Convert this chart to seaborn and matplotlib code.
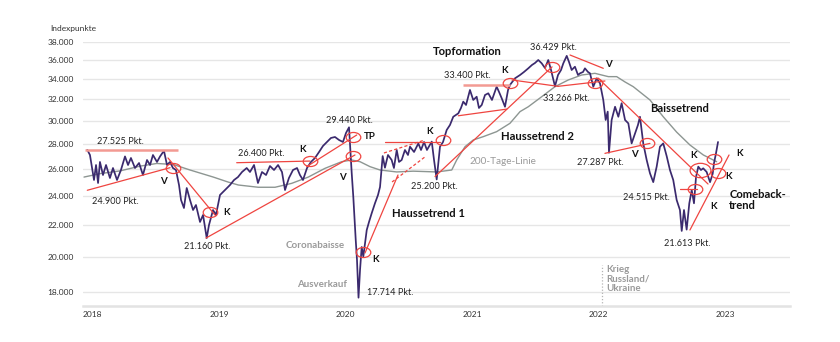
import numpy as np
import pandas as pd
import matplotlib
matplotlib.use("Agg")
import matplotlib.pyplot as plt
import seaborn as sns
from matplotlib.path import Path
from matplotlib.transforms import Affine2D

# ---------------- data (decimal years, index points) ----------------
t_index = [2018.034, 2018.055, 2018.087, 2018.103, 2018.119, 2018.134, 2018.158, 2018.182, 2018.213, 2018.237,
           2018.269, 2018.300, 2018.332, 2018.356, 2018.379, 2018.411, 2018.443, 2018.474, 2018.506, 2018.530,
           2018.553, 2018.585, 2018.609, 2018.640, 2018.664, 2018.688, 2018.711, 2018.735, 2018.759, 2018.775,
           2018.798, 2018.820, 2018.846, 2018.870, 2018.893, 2018.925, 2018.949, 2018.978, 2018.996, 2019.028,
           2019.051, 2019.083, 2019.123, 2019.162, 2019.194, 2019.225, 2019.257, 2019.294, 2019.320, 2019.352,
           2019.383, 2019.415, 2019.447, 2019.478, 2019.510, 2019.542, 2019.573, 2019.597, 2019.628, 2019.660,
           2019.692, 2019.715, 2019.739, 2019.771, 2019.802, 2019.834, 2019.866, 2019.897, 2019.929, 2019.960,
           2019.992, 2020.024, 2020.055, 2020.079, 2020.103, 2020.124, 2020.137, 2020.156, 2020.166, 2020.178,
           2020.190, 2020.203, 2020.216, 2020.243, 2020.261, 2020.282, 2020.308, 2020.332, 2020.348, 2020.369,
           2020.387, 2020.411, 2020.440, 2020.458, 2020.480, 2020.498, 2020.519, 2020.545, 2020.569, 2020.585,
           2020.617, 2020.651, 2020.672, 2020.696, 2020.719, 2020.757, 2020.775, 2020.796, 2020.822, 2020.846,
           2020.875, 2020.901, 2020.927, 2020.967, 2020.988, 2021.006, 2021.028, 2021.059, 2021.085, 2021.112,
           2021.130, 2021.152, 2021.178, 2021.204, 2021.233, 2021.270, 2021.289, 2021.310, 2021.336, 2021.360,
           2021.375, 2021.415, 2021.455, 2021.486, 2021.520, 2021.549, 2021.573, 2021.599, 2021.626, 2021.652,
           2021.678, 2021.700, 2021.731, 2021.755, 2021.779, 2021.797, 2021.824, 2021.842, 2021.863, 2021.889,
           2021.913, 2021.929, 2021.953, 2021.968, 2021.992, 2022.008, 2022.034, 2022.061, 2022.087, 2022.113,
           2022.132, 2022.148, 2022.158, 2022.179, 2022.206, 2022.232, 2022.258, 2022.285, 2022.311, 2022.337,
           2022.364, 2022.387, 2022.403, 2022.429, 2022.456, 2022.482, 2022.508, 2022.535, 2022.561, 2022.587,
           2022.614, 2022.640, 2022.666, 2022.693, 2022.719, 2022.733, 2022.751, 2022.772, 2022.793, 2022.812,
           2022.830, 2022.846, 2022.864, 2022.885, 2022.903, 2022.930, 2022.957, 2022.978, 2022.988, 2023.004,
           2023.020]
v_index = [27525, 27107, 25159, 26310, 24934, 26550, 25536, 26310, 25309, 26075,
           25159, 25920, 26990, 26310, 26866, 26075, 26467, 25536, 26705, 26310,
           27107, 26550, 26990, 27450, 26310, 26550, 26075, 25920, 24786, 23703,
           23144, 24565, 23703, 23006, 23351, 22200, 22666, 21160, 22000, 23006,
           22666, 24059, 24419, 24786, 25159, 25380, 25766, 26075, 25766, 26310,
           24934, 25766, 25536, 26231, 25920, 26310, 25766, 24419, 25309, 25920,
           26075, 25536, 25159, 26075, 26550, 26866, 27350, 27845, 28178, 28517,
           28602, 28347, 28178, 28945, 29440, 25717, 23900, 21037, 19820, 17714,
           19238, 20603, 20020, 21674, 22200, 22780, 23470, 24059, 24640, 27020,
           26100, 27107, 26705, 26075, 27514, 26550, 26705, 27514, 27107, 27787,
           27350, 28060, 27514, 28178, 27514, 28210, 26705, 25200, 27787, 28178,
           29204, 29643, 30380, 30690, 31186, 31780, 31467, 32905, 31939, 32250,
           31186, 31467, 32418, 32580, 31939, 33230, 32710, 32100, 31300, 32905,
           33399, 34070, 34409, 34720, 35100, 35450, 35662, 35982, 35630, 35134,
           35982, 34925, 33266, 34409, 34925, 35630, 36429, 35770, 34925, 35270,
           34409, 34580, 34720, 35100, 34720, 34580, 33230, 34070, 33560, 31939,
           30089, 30850, 27287, 30089, 31300, 30380, 31630, 30089, 29790, 28060,
           28890, 29643, 30380, 28060, 26705, 25670, 25000, 26180, 27787, 28060,
           27020, 25920, 25159, 23703, 23006, 21613, 23006, 21700, 23470, 24419,
           23470, 25380, 26180, 25920, 26050, 25770, 25000, 25640, 26440, 27250,
           28178]

t_ma200 = [2018.008, 2018.134, 2018.292, 2018.451, 2018.583, 2018.714, 2018.846, 2019.030, 2019.149, 2019.228,
           2019.386, 2019.518, 2019.650, 2019.781, 2019.913, 2020.045, 2020.124, 2020.190, 2020.269, 2020.348,
           2020.480, 2020.611, 2020.796, 2020.915, 2020.954, 2021.020, 2021.085, 2021.164, 2021.270, 2021.375,
           2021.455, 2021.520, 2021.626, 2021.731, 2021.836, 2021.942, 2022.047, 2022.153, 2022.219, 2022.285,
           2022.350, 2022.482, 2022.587, 2022.693, 2022.798, 2022.904, 2023.009]
v_ma200 = [25380, 25640, 25850, 26220, 26430, 26350, 25920, 25380, 25000, 24786,
           24620, 24620, 24910, 25380, 26050, 26570, 26705, 26570, 26180, 25920,
           25770, 25830, 25770, 25920, 26705, 27787, 28347, 28630, 29060, 29790,
           30850, 31300, 32250, 33230, 33900, 34409, 34580, 34240, 34240, 33700,
           33230, 31939, 30380, 29020, 27927, 27107, 26570]

y_ticks = [18000, 20000, 22000, 24000, 26000, 28000, 30000, 32000, 34000, 36000, 38000]
x_years = [2018, 2019, 2020, 2021, 2022, 2023]

# trend lines: (t0, v0, t1, v1)
salmon_lines = [(2018.016, 27525, 2018.753, 27525),
                (2021.006, 33400, 2021.375, 33400)]
red_lines = [(2018.034, 24400, 2018.688, 26100),
             (2018.672, 26866, 2019.043, 22666),
             (2018.972, 21160, 2020.150, 27107),
             (2019.215, 26490, 2019.794, 26620),
             (2019.768, 26180, 2020.164, 28773),
             (2020.229, 20237, 2020.490, 25536),
             (2020.387, 28200, 2020.822, 28200),
             (2020.783, 25420, 2021.708, 35250),
             (2020.967, 30470, 2021.349, 31080),
             (2021.391, 33900, 2021.755, 33266),
             (2021.755, 33266, 2022.126, 33800),
             (2021.850, 36522, 2022.113, 35100),
             (2022.071, 34103, 2022.941, 24860),
             (2022.126, 27240, 2022.482, 28060),
             (2022.719, 24515, 2022.851, 24515),
             (2022.798, 21674, 2023.107, 27107)]
dashed_lines = [(2020.379, 27269, 2020.703, 28347),
                (2020.443, 25010, 2020.703, 26950)]
circles_t = [2018.709, 2019.004, 2019.794, 2020.137, 2020.137, 2020.216, 2020.848, 2021.375, 2021.708,
             2022.047, 2022.456, 2022.838, 2022.985, 2023.022]
circles_v = [26050, 22890, 26620, 28570, 27020, 20310, 28347, 33620, 35240,
             33620, 28060, 24515, 26790, 25670]
big_circle = (2022.877, 25920)

# text labels
pkt_labels = [("27.525 Pkt.", 2018.108, 28260), ("24.900 Pkt.", 2018.074, 23580),
              ("21.160 Pkt.", 2018.801, 20630), ("26.400 Pkt.", 2019.228, 27190),
              ("29.440 Pkt.", 2019.919, 30030), ("17.714 Pkt.", 2020.243, 17980),
              ("25.200 Pkt.", 2020.590, 24710), ("33.400 Pkt.", 2020.856, 34306),
              ("36.429 Pkt.", 2021.534, 37370), ("33.266 Pkt.", 2021.639, 32100),
              ("27.287 Pkt.", 2021.907, 26490), ("24.515 Pkt.", 2022.266, 23900),
              ("21.613 Pkt.", 2022.593, 20800)]
signal_labels = [("V", 2018.635, 25080), ("K", 2019.136, 22850), ("K", 2019.734, 27570),
                 ("TP", 2020.265, 28650), ("V", 2020.050, 25380), ("K", 2020.316, 19870),
                 ("K", 2020.738, 29050), ("K", 2021.336, 34850), ("V", 2022.153, 35450),
                 ("V", 2022.358, 27107), ("K", 2022.830, 27030), ("K", 2023.188, 27190),
                 ("K", 2023.107, 25400), ("K", 2022.988, 23240)]
headline_labels = [("Topformation", 2020.769, 36960), ("Haussetrend 1", 2020.440, 22780),
                   ("Haussetrend 2", 2021.304, 28650), ("Baissetrend", 2022.482, 31170),
                   ("Comeback-\ntrend", 2023.109, 23703)]
gray_labels = [("Coronabaisse", 2019.838, 20680), ("Ausverkauf", 2019.888, 18400)]
war_date = 2022.10

# ---------------- style ----------------
sns.set_theme(style="white")
plt.rcParams["font.family"] = ["Lato", "DejaVu Sans"]

fig = plt.figure(figsize=(8.4, 3.42), dpi=100)
ax = fig.add_axes([83/840, 1 - 305.7/342, (790 - 83)/840, (305.7 - 41.7)/342])

ax.set_yscale("log")
ax.set_ylim(17295, 38000)
ax.set_xlim(2018.0, 2023.589)

for yt in y_ticks:
    ax.axhline(yt, color="#e6e6e6", lw=1.0, zorder=0)

RED = "#ef4540"
SALMON = "#f39a93"
PURPLE = "#3b2a6e"
GRAY = "#9a9a9a"

df_ma = pd.DataFrame({"t": t_ma200, "v": v_ma200})
sns.lineplot(data=df_ma, x="t", y="v", ax=ax, color="#8d9692", lw=1.0, zorder=2)

df = pd.DataFrame({"t": t_index, "v": v_index})
sns.lineplot(data=df, x="t", y="v", ax=ax, color=PURPLE, lw=1.25, zorder=3)

for (a, b, c, d) in salmon_lines:
    ax.plot([a, c], [b, d], color=SALMON, lw=1.8, zorder=4, solid_capstyle="butt")
for (a, b, c, d) in red_lines:
    ax.plot([a, c], [b, d], color=RED, lw=0.9, zorder=4)
for (a, b, c, d) in dashed_lines:
    ax.plot([a, c], [b, d], color=RED, lw=0.9, ls=(0, (2.5, 1.8)), zorder=4)

ell = Path.unit_circle().transformed(Affine2D().scale(1.45, 1.0))
ax.plot(circles_t, circles_v, ls="none", marker=ell, markersize=10.5,
        markerfacecolor="none", markeredgecolor=RED, markeredgewidth=0.9, zorder=5)
ax.plot([big_circle[0]], [big_circle[1]], ls="none", marker=ell, markersize=15,
        markerfacecolor="none", markeredgecolor=RED, markeredgewidth=0.9, zorder=5)

# war marker
ax.plot([war_date, war_date], [17295, 19540], color="#b5b5b5", lw=0.9, ls=(0, (1, 1.5)), zorder=1)
ax.text(war_date + 0.035, 19520, "Krieg\nRussland/\nUkraine", fontsize=7, fontweight="bold",
        color=GRAY, ha="left", va="top", linespacing=1.05)

for s, x, y in pkt_labels:
    ax.text(x, y, s, fontsize=6.6, color="#222222", ha="left", va="center")
for s, x, y in signal_labels:
    ax.text(x, y, s, fontsize=7, fontweight="bold", color="#111111", ha="center", va="center")
for s, x, y in headline_labels:
    ax.text(x, y, s, fontsize=8.1, fontweight="bold", color="#111111", ha="left", va="center",
            linespacing=1.1)
for s, x, y in gray_labels:
    ax.text(x, y, s, fontsize=7, fontweight="bold", color=GRAY, ha="center", va="center")
ax.text(2021.059, 26570, "200-Tage-Linie", fontsize=7.2, color=GRAY, ha="left", va="center")

# axes
ax.yaxis.set_minor_locator(matplotlib.ticker.NullLocator())
ax.set_yticks(y_ticks)
ax.set_yticklabels([f"{v:,}".replace(",", ".") for v in y_ticks])
ax.set_xticks(x_years)
ax.set_xticklabels([str(y) for y in x_years], ha="left")
ax.tick_params(axis="y", length=0, pad=6.5, labelsize=6.0, labelcolor="#333333")
ax.tick_params(axis="x", length=0, pad=4, labelsize=6.0, labelcolor="#333333")
ax.set_xlabel("")
ax.set_ylabel("")
for side in ["left", "right", "top"]:
    ax.spines[side].set_visible(False)
ax.spines["bottom"].set_color("#e3e3e3")
ax.spines["bottom"].set_linewidth(1.8)
ax.grid(False)

fig.text(50/840, 1 - 28/342, "Indexpunkte", fontsize=6.0, color="#333333", ha="left", va="center")

fig.savefig("out.png", dpi=100)
